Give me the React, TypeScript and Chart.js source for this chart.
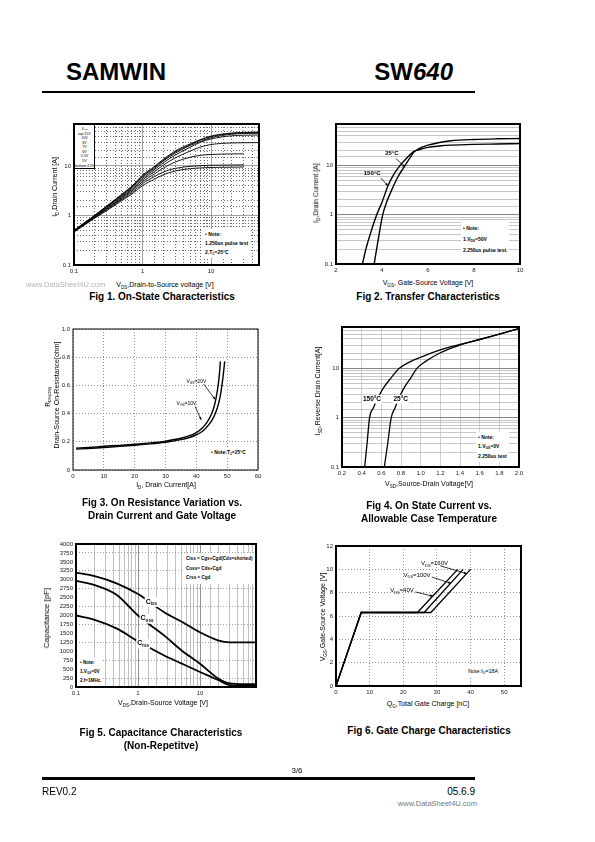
import React, { useEffect, useRef } from "react";
import { Chart, registerables } from "chart.js";
Chart.register(...registerables);

const FONT = '"Liberation Sans", Arial, Helvetica, sans-serif';

// ---------------- Fig 1 : On-State Characteristics ----------------
const fig1Vds = [0.1, 0.2, 0.3, 0.5, 0.7, 1, 1.5, 2, 3, 5, 7, 10, 20, 30, 50];
const fig1Id15V = [0.5, 1.0, 1.55, 2.7, 3.9, 6.5, 9.8, 13.5, 20, 28, 34, 40, 46, 47.5, 48];
const fig1Id10V = [0.5, 1.0, 1.52, 2.6, 3.8, 6.2, 9.4, 13, 19, 27, 33, 39, 45, 46.5, 47];
const fig1Id8V = [0.5, 0.98, 1.5, 2.5, 3.7, 6.0, 9.0, 12.5, 18, 26, 31, 37, 43.5, 45, 45.5];
const fig1Id7V = [0.49, 0.96, 1.45, 2.4, 3.5, 5.6, 8.4, 11.5, 16.5, 24, 30, 35, 40.5, 41.5, 42];
const fig1Id6V = [0.49, 0.94, 1.4, 2.3, 3.3, 5.2, 7.7, 10.3, 14.5, 20, 24, 27, 29, 29.3, 29.5];
const fig1Id55V = [0.48, 0.92, 1.35, 2.2, 3.1, 4.8, 6.9, 9, 12, 15, 16.3, 17, 17.4, 17.5];
const fig1Id5V = [0.47, 0.9, 1.3, 2.1, 2.9, 4.4, 6.1, 7.5, 8.9, 9.8, 10.1, 10.3, 10.4, 10.5];
const fig1Id45V = [0.46, 0.88, 1.25, 2.0, 2.7, 4.0, 5.4, 6.6, 7.9, 8.8, 9.1, 9.3, 9.4, 9.5];
const fig1Legend = ["top:15V", "10V", "8V", "7V", "6V", "5.5V", "5V", "bottom:4.5V"];

// ---------------- Fig 2 : Transfer Characteristics ----------------
const fig2Vgs150 = [3.15, 3.3, 3.5, 3.75, 4.0, 4.27, 4.5, 4.78, 5.0, 5.36, 5.6, 6.0, 6.5, 7, 8, 9, 10];
const fig2Id150 = [0.1, 0.2, 0.42, 0.95, 1.8, 4.0, 6.5, 10, 13, 19, 21, 23.5, 25, 26, 27, 27.5, 28];
const fig2Vgs25 = [3.66, 3.8, 4.03, 4.2, 4.46, 4.7, 4.97, 5.2, 5.4, 5.6, 6.0, 6.5, 7, 8, 9, 10];
const fig2Id25 = [0.1, 0.25, 1.0, 1.8, 3.5, 6, 9.5, 14, 19, 22, 26, 29.5, 32, 34, 35, 35.5];

// ---------------- Fig 3 : On Resistance ----------------
const fig3IdA = [1, 5, 10, 15, 20, 25, 30, 35, 38, 40, 42, 43.5, 45, 46, 46.8, 47.4, 47.8];
const fig3RdsA = [0.155, 0.16, 0.168, 0.175, 0.183, 0.192, 0.205, 0.225, 0.245, 0.265, 0.3, 0.34, 0.4, 0.47, 0.56, 0.66, 0.77];
const fig3IdB = [1, 5, 10, 15, 20, 25, 30, 35, 38, 40, 42, 44, 45.5, 46.8, 47.8, 48.6, 49.2];
const fig3RdsB = [0.148, 0.153, 0.16, 0.168, 0.176, 0.185, 0.197, 0.215, 0.232, 0.25, 0.275, 0.32, 0.37, 0.44, 0.53, 0.65, 0.77];

// ---------------- Fig 4 : Source-Drain diode ----------------
const fig4Vsd150 = [0.43, 0.455, 0.48, 0.52, 0.56, 0.62, 0.7, 0.78, 0.9, 1.0, 1.2, 1.4, 1.6, 1.8, 2.0];
const fig4Isd150 = [0.1, 0.3, 1.0, 1.6, 2.4, 4, 6.5, 10, 14, 17, 24, 31, 39, 50, 65];
const fig4Vsd25 = [0.63, 0.665, 0.7, 0.74, 0.775, 0.83, 0.9, 0.96, 1.05, 1.2, 1.4, 1.6, 1.8, 2.0];
const fig4Isd25 = [0.1, 0.3, 1.0, 1.6, 2.4, 4, 6.5, 10, 14, 21, 30, 39, 50, 65];

// ---------------- Fig 5 : Capacitance ----------------
const fig5Vds = [0.1, 0.2, 0.45, 1, 2.6, 5, 10, 20, 30, 50, 80];
const fig5Ciss = [3200, 3100, 2900, 2600, 2100, 1830, 1530, 1300, 1250, 1250, 1250];
const fig5Coss = [2970, 2850, 2580, 2000, 1450, 1030, 650, 230, 100, 80, 80];
const fig5Crss = [2000, 1880, 1640, 1280, 890, 660, 420, 190, 50, 30, 30];

// ---------------- Fig 6 : Gate Charge ----------------
const fig6Qg40 = [0, 7.5, 24.2, 36.2];
const fig6Qg100 = [0, 7.5, 26.2, 37.8];
const fig6Qg160 = [0, 7.5, 28.2, 40];
const fig6Vgs = [0, 6.3, 6.3, 10];

// ------------------------------------------------------------------
const YW = 26;
const XH = 14;
const PT = 8;
const PR = 12;

type Ann = {
  s: string;
  x: number;
  y: number;
  size: number;
  bold?: boolean;
  bg?: boolean;
  align?: "left" | "center";
  arrow?: [number, number, number, number];
};

function segs(s: string) {
  const out: { t: string; sub: boolean }[] = [];
  const re = /_\{([^}]*)\}/g;
  let last = 0;
  let m: RegExpExecArray | null;
  while ((m = re.exec(s))) {
    if (m.index > last) out.push({ t: s.slice(last, m.index), sub: false });
    out.push({ t: m[1], sub: true });
    last = re.lastIndex;
  }
  if (last < s.length) out.push({ t: s.slice(last), sub: false });
  return out;
}

function drawRich(ctx: CanvasRenderingContext2D, s: string, x: number, y: number, size: number, bold: boolean, align: string, bg: boolean) {
  const parts = segs(s);
  const fMain = `${bold ? "bold " : ""}${size}px ${FONT}`;
  const fSub = `${bold ? "bold " : ""}${size * 0.65}px ${FONT}`;
  let w = 0;
  const ws = parts.map((p) => {
    ctx.font = p.sub ? fSub : fMain;
    const m = ctx.measureText(p.t).width;
    w += m;
    return m;
  });
  let cx = align === "center" ? x - w / 2 : x;
  if (bg) {
    ctx.fillStyle = "#fff";
    ctx.fillRect(cx - 1, y - size * 0.6, w + 2, size * 1.35);
  }
  ctx.fillStyle = "#000";
  ctx.textBaseline = "middle";
  ctx.textAlign = "left";
  parts.forEach((p, i) => {
    ctx.font = p.sub ? fSub : fMain;
    ctx.fillText(p.t, cx, p.sub ? y + size * 0.35 : y);
    cx += ws[i];
  });
}

function overlayPlugin(anns: Ann[], frame: number) {
  return {
    id: "overlay",
    afterDatasetsDraw(chart: any) {
      const { ctx, chartArea: a, scales } = chart;
      ctx.save();
      ctx.strokeStyle = "#000";
      ctx.lineWidth = frame;
      ctx.strokeRect(a.left, a.top, a.right - a.left, a.bottom - a.top);
      const xs = scales.x;
      const ys = scales.y;
      for (const an of anns) {
        if (an.arrow) {
          const [x1, y1, x2, y2] = an.arrow;
          const p1x = xs.getPixelForValue(x1), p1y = ys.getPixelForValue(y1);
          const p2x = xs.getPixelForValue(x2), p2y = ys.getPixelForValue(y2);
          ctx.strokeStyle = "#000";
          ctx.lineWidth = 0.8;
          ctx.beginPath();
          ctx.moveTo(p1x, p1y);
          ctx.lineTo(p2x, p2y);
          ctx.stroke();
          const ang = Math.atan2(p2y - p1y, p2x - p1x);
          ctx.fillStyle = "#000";
          ctx.beginPath();
          ctx.moveTo(p2x, p2y);
          ctx.lineTo(p2x - 3.2 * Math.cos(ang - 0.4), p2y - 3.2 * Math.sin(ang - 0.4));
          ctx.lineTo(p2x - 3.2 * Math.cos(ang + 0.4), p2y - 3.2 * Math.sin(ang + 0.4));
          ctx.closePath();
          ctx.fill();
        }
        drawRich(ctx, an.s, xs.getPixelForValue(an.x), ys.getPixelForValue(an.y), an.size, !!an.bold, an.align || "center", !!an.bg);
      }
      ctx.restore();
    },
  };
}

const tickFont = { family: FONT, size: 6 };
const isDecade = (v: number) => Math.abs(Math.log10(v) - Math.round(Math.log10(v))) < 1e-6;
const decadeLabel = (v: any) => (isDecade(Number(v)) ? String(Number(Number(v).toPrecision(3))) : "");
const tv = (c: any) => (c && c.tick ? c.tick.value : NaN);

function pts(xs: number[], ys: number[]) {
  return ys.map((y, i) => ({ x: xs[i], y }));
}

function line(xs: number[], ys: number[], width: number, smooth = true) {
  return {
    data: pts(xs, ys),
    borderColor: "#000",
    borderWidth: width,
    pointRadius: 0,
    fill: false,
    cubicInterpolationMode: smooth ? "monotone" : "default",
    tension: 0,
  };
}

function makeConfig(datasets: any[], x: any, y: any, anns: Ann[], frame: number) {
  return {
    type: "line",
    data: { datasets },
    options: {
      animation: false,
      responsive: false,
      maintainAspectRatio: false,
      events: [],
      layout: { padding: { left: 0, top: PT, right: PR, bottom: 0 } },
      plugins: { legend: { display: false }, tooltip: { enabled: false }, title: { display: false } },
      scales: {
        x: { ...x, afterFit: (s: any) => { s.height = XH; } },
        y: { ...y, afterFit: (s: any) => { s.width = YW; } },
      },
    },
    plugins: [overlayPlugin(anns, frame)],
  };
}

function logAxis(min: number, max: number, major: string, minor: string, minorDash: number[], show = true) {
  return {
    type: "logarithmic",
    min,
    max,
    grid: {
      display: show,
      drawTicks: false,
      color: (c: any) => (isDecade(tv(c)) ? major : minor),
      lineWidth: 0.8,
    },
    border: { display: false, dash: (c: any) => (isDecade(tv(c)) ? [] : minorDash) },
    ticks: { autoSkip: false, maxRotation: 0, font: tickFont, color: "#222", padding: 3, callback: decadeLabel },
  };
}

function linAxis(min: number, max: number, step: number, gridColor: any, dash: number[], show = true, cb?: any) {
  return {
    type: "linear",
    min,
    max,
    grid: { display: show, drawTicks: false, color: gridColor, lineWidth: 0.8 },
    border: { display: false, dash },
    ticks: {
      autoSkip: false,
      maxRotation: 0,
      stepSize: step,
      includeBounds: false,
      font: tickFont,
      color: "#222",
      padding: 3,
      ...(cb ? { callback: cb } : {}),
    },
  };
}

// ---------------- chart configs ----------------
const fig2Anns: Ann[] = [
  { s: "25°C", x: 4.43, y: 17.8, size: 6, bold: true, arrow: [4.6, 14, 5.0, 9.3] },
  { s: "150°C", x: 3.57, y: 7, size: 6, bold: true, arrow: [3.95, 5.6, 4.26, 3.85] },
];
const fig3Anns: Ann[] = [
  { s: "V_{GS}=20V", x: 40, y: 0.63, size: 5, arrow: [42.4, 0.61, 46.1, 0.5] },
  { s: "V_{GS}=10V", x: 36.8, y: 0.47, size: 5, arrow: [39.6, 0.45, 41.6, 0.355] },
];
const fig4Anns: Ann[] = [
  { s: "150°C", x: 0.505, y: 2.44, size: 6.5, bold: true, bg: true },
  { s: "25°C", x: 0.797, y: 2.44, size: 6.5, bold: true, bg: true },
];
const fig5Anns: Ann[] = [
  { s: "C_{iss}", x: 1.33, y: 2388, size: 7, bold: true, bg: true, align: "left" },
  { s: "C_{oss}", x: 1.1, y: 1921, size: 7, bold: true, bg: true, align: "left" },
  { s: "C_{rss}", x: 0.97, y: 1219, size: 7, bold: true, bg: true, align: "left" },
];
const fig6Anns: Ann[] = [
  { s: "V_{DS}=160V", x: 25.3, y: 10.5, size: 6, align: "left", arrow: [31, 10.3, 38.9, 9.63] },
  { s: "V_{DS}=100V", x: 20.1, y: 9.49, size: 6, align: "left", arrow: [28.5, 9.34, 34.2, 8.8] },
  { s: "V_{DS}=40V", x: 16.1, y: 8.2, size: 6, align: "left", arrow: [23.6, 8.06, 28.8, 7.7] },
];

const makeFig1 = () =>
  makeConfig(
    [fig1Id15V, fig1Id10V, fig1Id8V, fig1Id7V, fig1Id6V, fig1Id55V, fig1Id5V, fig1Id45V].map((ys) => line(fig1Vds, ys, 0.9)),
    logAxis(0.1, 50, "#8a8a8a", "#444", [1, 2]),
    logAxis(0.1, 70, "#8a8a8a", "#444", [1, 2]),
    [],
    2
  );

const makeFig2 = () =>
  makeConfig(
    [line(fig2Vgs150, fig2Id150, 1.4), line(fig2Vgs25, fig2Id25, 1.4)],
    linAxis(2, 10, 2, "#000", [], false),
    logAxis(0.1, 70, "#666", "#b8b8b8", []),
    fig2Anns,
    2
  );

const makeFig3 = () =>
  makeConfig(
    [line(fig3IdA, fig3RdsA, 1.4), line(fig3IdB, fig3RdsB, 1.4)],
    linAxis(0, 60, 10, "#777", [1, 2]),
    linAxis(0, 1, 0.2, "#777", [1, 2]),
    fig3Anns,
    1
  );

const makeFig4 = () =>
  makeConfig(
    [line(fig4Vsd150, fig4Isd150, 1.3), line(fig4Vsd25, fig4Isd25, 1.3)],
    linAxis(0.2, 2.0, 0.2, "#c4c4c4", []),
    logAxis(0.1, 70, "#666", "#b8b8b8", []),
    fig4Anns,
    2
  );

const makeFig5 = () =>
  makeConfig(
    [line(fig5Vds, fig5Ciss, 1.8), line(fig5Vds, fig5Coss, 1.8), line(fig5Vds, fig5Crss, 1.8)],
    logAxis(0.1, 80, "#777", "#b0b0b0", []),
    linAxis(0, 4000, 250, (c: any) => (Math.round(tv(c) / 250) % 2 === 1 ? "#888" : "rgba(0,0,0,0)"), [1, 2], true, (v: any) => String(v)),
    fig5Anns,
    2
  );

const makeFig6 = () =>
  makeConfig(
    [line(fig6Qg40, fig6Vgs, 1.3, false), line(fig6Qg100, fig6Vgs, 1.3, false), line(fig6Qg160, fig6Vgs, 1.3, false)],
    linAxis(0, 55, 10, "#777", [1, 2]),
    linAxis(0, 12, 2, "#777", [1, 2]),
    fig6Anns,
    2
  );

// ---------------- React parts ----------------
function Plot({ box, make }: { box: [number, number, number, number]; make: () => any }) {
  const ref = useRef<HTMLCanvasElement>(null);
  const [l, t, r, b] = box;
  const w = r - l + YW + PR;
  const h = b - t + PT + XH;
  useEffect(() => {
    const chart = new Chart(ref.current as HTMLCanvasElement, make() as any);
    return () => chart.destroy();
  }, []);
  return (
    <canvas
      ref={ref}
      width={w}
      height={h}
      style={{ position: "absolute", left: l - YW, top: t - PT, width: w, height: h }}
    />
  );
}

function Rich({ s }: { s: string }) {
  return (
    <>
      {segs(s).map((p, i) =>
        p.sub ? (
          <span key={i} style={{ fontSize: "0.65em", position: "relative", top: "0.35em" }}>
            {p.t}
          </span>
        ) : (
          <span key={i}>{p.t}</span>
        )
      )}
    </>
  );
}

function Label({
  x, y, s, size = 7, bold = false, align = "center", rot = false, color = "#000",
}: { x: number; y: number; s: string; size?: number; bold?: boolean; align?: "left" | "center" | "right"; rot?: boolean; color?: string }) {
  const ax = align === "center" ? "-50%" : align === "right" ? "-100%" : "0";
  return (
    <div
      style={{
        position: "absolute",
        left: x,
        top: y,
        transform: `translate(${ax}, -50%)${rot ? " rotate(-90deg)" : ""}`,
        whiteSpace: "nowrap",
        fontSize: size,
        lineHeight: 1,
        fontWeight: bold ? "bold" : "normal",
        color,
      }}
    >
      <Rich s={s} />
    </div>
  );
}

function Note({ x, y, lines, size = 5, lh = 9, bold = true }: { x: number; y: number; lines: string[]; size?: number; lh?: number; bold?: boolean }) {
  return (
    <div
      style={{
        position: "absolute",
        left: x,
        top: y,
        background: "#fff",
        padding: "1px 2px",
        fontSize: size,
        fontWeight: bold ? "bold" : "normal",
        whiteSpace: "nowrap",
      }}
    >
      {lines.map((l, i) => (
        <div key={i} style={{ lineHeight: `${lh}px`, height: lh }}>
          <Rich s={l} />
        </div>
      ))}
    </div>
  );
}

export default function App() {
  return (
    <div
      style={{
        position: "absolute",
        left: 0,
        top: 0,
        width: 595,
        height: 842,
        background: "#fff",
        fontFamily: FONT,
        color: "#000",
        overflow: "hidden",
      }}
    >
      {/* header */}
      <div style={{ position: "absolute", left: 66, top: 60, fontSize: 24, lineHeight: "24px", fontWeight: "bold" }}>SAMWIN</div>
      <div style={{ position: "absolute", left: 300, width: 153, top: 60, fontSize: 24, lineHeight: "24px", fontWeight: "bold", textAlign: "right" }}>
        <span style={{ fontStyle: "normal" }}>SW</span>
        <span style={{ fontStyle: "italic" }}>640</span>
      </div>
      <div style={{ position: "absolute", left: 42, top: 91, width: 433, height: 2, background: "#000" }} />

      {/* charts */}
      <Plot box={[74, 124, 259, 265]} make={makeFig1} />
      <Plot box={[336, 124, 520, 264]} make={makeFig2} />
      <Plot box={[73, 329, 258, 470]} make={makeFig3} />
      <Plot box={[342, 327, 519, 467]} make={makeFig4} />
      <Plot box={[76, 544, 256, 687]} make={makeFig5} />
      <Plot box={[336, 546, 521, 686]} make={makeFig6} />

      {/* Fig 1 texts */}
      <div
        style={{
          position: "absolute",
          left: 74,
          top: 124,
          width: 21,
          height: 45,
          boxSizing: "border-box",
          border: "1.5px solid #000",
          background: "#fff",
          fontSize: 3.6,
          textAlign: "center",
          paddingTop: 1.5,
        }}
      >
        <div style={{ lineHeight: "5px", height: 5 }}>
          <Rich s="V_{GS}" />
        </div>
        {fig1Legend.map((l, i) => (
          <div key={i} style={{ lineHeight: "4.6px", height: 4.6, whiteSpace: "nowrap" }}>
            {l}
          </div>
        ))}
      </div>
      <Note x={203} y={229} lines={["• Note:", "1.250us pulse test", "2.T_{C}=25°C"]} lh={9} />
      <Label x={55} y={187} s="I_{D},Drain Current [A]" size={7} rot />
      <Label x={165} y={285} s="V_{DS},Drain-to-Source voltage [V]" size={7} />
      <Label x={26} y={285} s="www.DataSheet4U.com" size={7.5} align="left" color="#b5b5b5" />
      <Label x={162} y={297} s="Fig 1. On-State Characteristics" size={10} bold />

      {/* Fig 2 texts */}
      <Note x={461} y={222} lines={["• Note:", "1.V_{DS}=50V", "2.250us pulse test."]} lh={11} />
      <Label x={316} y={193} s="I_{D},Drain Current [A]" size={7} rot />
      <Label x={428} y={283} s="V_{GS}, Gate-Source Voltage [V]" size={7} />
      <Label x={428} y={297} s="Fig 2. Transfer Characteristics" size={10} bold />

      {/* Fig 3 texts */}
      <Note x={209} y={447} lines={["• Note:T_{J}=25°C"]} lh={9} />
      <Label x={48} y={397} s="R_{DS(ON)}" size={6.5} rot />
      <Label x={56} y={395} s="Drain-Source On-Resistance[ohm]" size={7} rot />
      <Label x={166} y={485} s="I_{D}, Drain Current[A]" size={7} />
      <Label x={162} y={503} s="Fig 3. On Resistance Variation vs." size={10} bold />
      <Label x={162} y={516} s="Drain Current and Gate Voltage" size={10} bold />

      {/* Fig 4 texts */}
      <Note x={476} y={432} lines={["• Note:", "1.V_{GS}=0V", "2.250us test"]} lh={9.3} />
      <Label x={318} y={391} s="I_{SD},Reverse Drain Current[A]" size={7} rot />
      <Label x={429} y={484} s="V_{SD},Source-Drain Voltage[V]" size={7} />
      <Label x={429} y={506} s="Fig 4.  On State Current vs." size={10} bold />
      <Label x={429} y={519} s="Allowable Case Temperature" size={10} bold />

      {/* Fig 5 texts */}
      <Note x={184} y={553} lines={["Ciss = Cgs+Cgd(Cds=shorted)", "Coss= Cds+Cgd", "Crss = Cgd"]} size={4.6} lh={9.7} />
      <Note x={78} y={657} lines={["• Note:", "1.V_{GS}=0V", "2.f=1MHz."]} size={4.6} lh={9} />
      <Label x={47} y={618} s="Capacitance [pF]" size={8} rot color="#000" />
      <Label x={163} y={703} s="V_{DS},Drain-Source Voltage [V]" size={7} />
      <Label x={161} y={733} s="Fig 5. Capacitance Characteristics" size={10} bold />
      <Label x={161} y={746} s="(Non-Repetitve)" size={10} bold />

      {/* Fig 6 texts */}
      <Note x={466} y={665} lines={["Note:I_{D}=18A"]} size={5.5} lh={10} bold={false} />
      <Label x={323} y={617} s="V_{GS},Gate-Source Voltage [V]" size={7} rot />
      <Label x={428} y={704} s="Q_{G},Total Gate Charge [nC]" size={7} />
      <Label x={429} y={731} s="Fig 6. Gate Charge Characteristics" size={10} bold />

      {/* footer */}
      <Label x={297} y={771} s="3/6" size={8} />
      <div style={{ position: "absolute", left: 42, top: 777, width: 433, height: 2.5, background: "#000" }} />
      <Label x={42} y={792} s="REV0.2" size={10} align="left" />
      <Label x={475} y={792} s="05.6.9" size={10} align="right" />
      <Label x={477} y={804} s="www.DataSheet4U.com" size={7.5} align="right" color="#777" />
    </div>
  );
}
